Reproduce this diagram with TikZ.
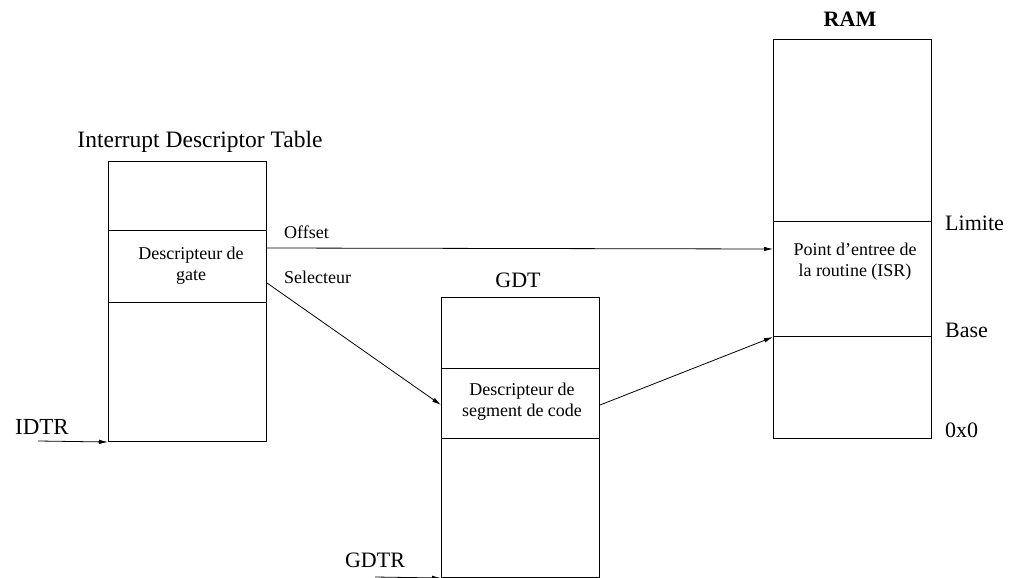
\documentclass[tikz,border=0pt]{standalone}
\usepackage{fontspec}
\setmainfont{Liberation Serif}
\usetikzlibrary{arrows.meta}
\tikzset{
  cell/.style={draw, line width=1pt, minimum width=158pt, inner sep=0pt, anchor=north west},
  small/.style={font=\fontsize{18}{21}\selectfont, align=center, inner sep=0pt},
  big/.style={font=\fontsize{22}{26}\selectfont, inner sep=0pt, anchor=base},
  link/.style={line width=0.8pt, -{Latex[length=9pt,width=4.5pt]}}
}
\begin{document}
\begin{tikzpicture}[x=1pt, y=-1pt]
\useasboundingbox (0,0) rectangle (1009,578);

% Interrupt descriptor table
\node[cell, minimum height=69pt]  (idttop) at (108,161) {};
\node[cell, minimum height=72pt]  (gate)   at (108,230) {};
\node[cell, minimum height=139pt] (idtbot) at (108,302) {};
\node[small] (gatetxt) at (191,266) {Descripteur de\\gate};
\node[big, font=\fontsize{23.5}{28}\selectfont] (idttitle) at (200,147) {Interrupt Descriptor Table};

% Global descriptor table
\node[cell, minimum height=71pt]  (gdttop) at (441,297) {};
\node[cell, minimum height=70pt]  (seg)    at (441,368) {};
\node[cell, minimum height=139pt] (gdtbot) at (441,438) {};
\node[small] (segtxt) at (522,402) {Descripteur de\\segment de code};
\node[big] (gdttitle) at (518,287) {GDT};

% Memory
\node[cell, minimum height=182pt] (ramtop) at (773,39) {};
\node[cell, minimum height=115pt] (isr)    at (773,221) {};
\node[cell, minimum height=102pt] (rambot) at (773,336) {};
\node[small] (isrtxt) at (855,262) {Point d'entree de\\la routine (ISR)};
\node[big, font=\fontsize{22}{26}\selectfont\bfseries] (ramtitle) at (850,27) {RAM};

% Address marks on the memory
\node[big, anchor=base west] (limite) at (945,230) {Limite};
\node[big, anchor=base west] (base)   at (945,337) {Base};
\node[big, anchor=base west] (zero)   at (945,437) {0x0};

% Registers
\node[big, font=\fontsize{23}{27}\selectfont] (idtr) at (42,434) {IDTR};
\node[big] (gdtr) at (375,567) {GDTR};
\coordinate (idtrin) at (38,441);
\coordinate (gdtrin) at (375,577);
\draw[link] (idtrin) -- (idtbot.south west);
\draw[link] (gdtrin) -- (gdtbot.south west);

% Gate fields
\node[small, anchor=base west] (offlbl) at (284,238) {Offset};
\node[small, anchor=base west] (sellbl) at (284,283) {Selecteur};
\draw[link] ([yshift=-18pt]gate.north east) -- ([yshift=-28pt]isr.north west);
\draw[link] ([yshift=-53pt]gate.north east) -- ([yshift=-37pt]seg.north west);

% Segment base into memory
\draw[link] ([yshift=-37pt]seg.north east) -- ([yshift=-1pt]rambot.north west);
\end{tikzpicture}
\end{document}
